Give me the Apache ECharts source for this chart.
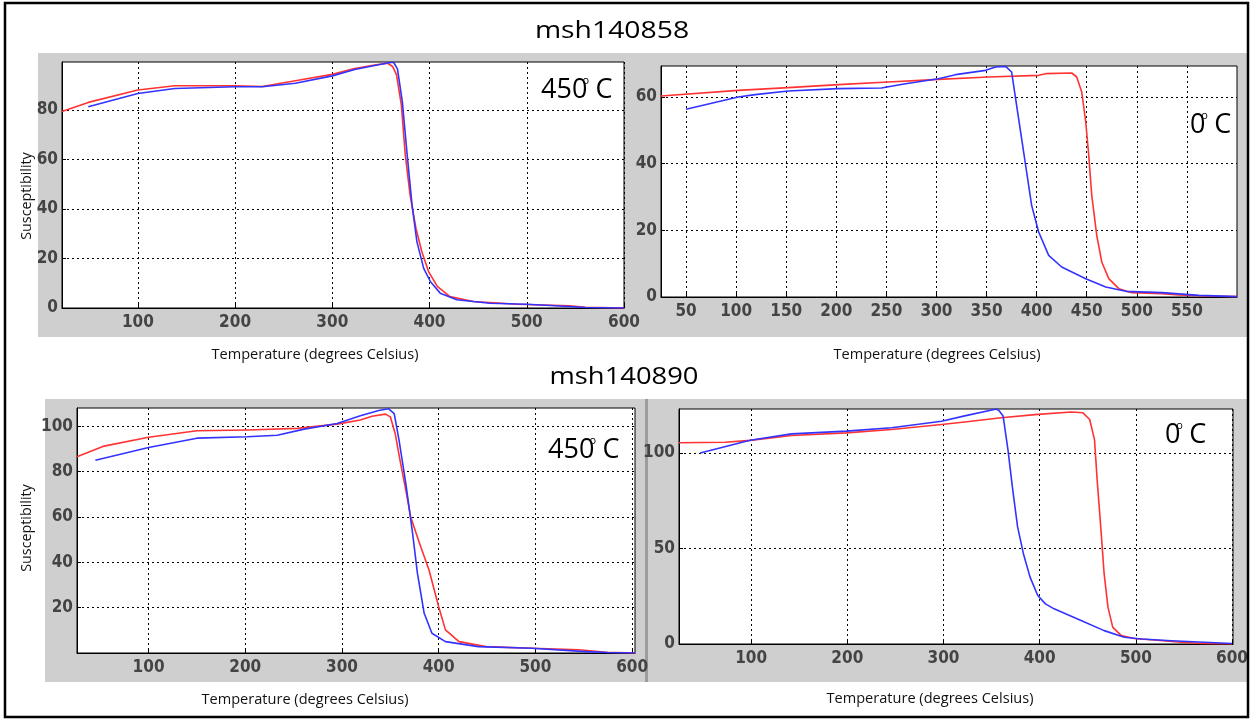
<!DOCTYPE html>
<html>
<head>
<meta charset="utf-8">
<script src="https://cdn.jsdelivr.net/npm/echarts@6/dist/echarts.min.js"></script>
<style>
html, body { margin: 0; padding: 0; background: #fff; }
#chart { width: 1251px; height: 719px; }
</style>
</head>
<body>
<div id="chart"></div>
<script>
// msh140858, heated to 450 C
var t1Red = [22, 49, 100, 138, 200, 228, 262, 300, 323, 345, 357, 362, 366, 371, 375, 380, 386, 392, 399, 408, 421, 445, 490, 544, 560, 600];
var s1Red = [79.3, 83, 88, 89.7, 89.7, 89.4, 91.7, 94.3, 96.7, 98.2, 98.8, 97.5, 94.2, 82, 62, 45.6, 32.2, 22.8, 14.7, 8.7, 4.6, 2.6, 1.5, 0.9, 0.3, 0];
var t1Blue = [49, 100, 138, 200, 228, 262, 300, 323, 345, 358, 363, 367, 372, 377, 382, 387, 394, 401, 411, 428, 462, 500, 548, 560, 600];
var s1Blue = [81.2, 86.6, 88.6, 89.3, 89.3, 90.7, 93.7, 96.3, 98, 99, 99.2, 96.5, 83.3, 61.8, 41.6, 26.8, 16, 10.6, 6, 3.3, 1.9, 1.5, 0.5, 0.2, 0];

// msh140858, 0 C
var t2Red = [25, 102, 152, 202, 252, 302, 352, 402, 409, 435, 440, 445, 449, 452, 455, 460, 465, 472, 482, 495, 525, 542, 569, 600];
var s2Red = [60.3, 62, 62.8, 63.7, 64.5, 65.3, 66, 66.5, 67, 67.2, 66, 61.5, 52.5, 42.5, 30.5, 18.5, 10.5, 5.5, 2.5, 1.3, 1, 0.6, 0.3, 0.1];
var t2Blue = [50, 102, 119, 152, 202, 245, 269, 302, 319, 349, 359, 369, 375, 380, 385, 390, 395, 402, 412, 425, 449, 469, 489, 525, 562, 600];
var s2Blue = [56.3, 60, 60.7, 61.8, 62.5, 62.7, 64, 65.5, 66.7, 68, 69, 69.2, 67.5, 57.5, 47.5, 37.5, 27.5, 19.5, 12.5, 9, 5.5, 3, 1.7, 1.3, 0.5, 0.1];

// msh140890, heated to 450 C
var t3Red = [26, 54, 100, 150, 202, 254, 295, 319, 331, 345, 350, 355, 360, 366, 371, 379, 390, 400, 407, 421, 449, 497, 545, 573, 603];
var s3Red = [86.5, 91.2, 95.1, 98, 98.3, 99, 100.9, 102.7, 104.4, 105.3, 104.1, 96.8, 85, 71.8, 60.1, 49.8, 36.6, 20.4, 10.2, 5, 2.8, 2.1, 1.4, 0.3, 0];
var t3Blue = [45, 100, 150, 202, 233, 261, 295, 319, 338, 348, 354, 359, 366, 373, 378, 385, 393, 407, 441, 496, 552, 575, 603];
var s3Blue = [85, 90.6, 94.7, 95.3, 96, 98.7, 101.2, 104.6, 106.9, 107.7, 105.5, 93.8, 74.8, 52.8, 35.2, 17.5, 8.7, 5, 2.8, 2.1, 0.6, 0.2, 0];

// msh140890, 0 C
var t4Red = [25, 73, 99, 142, 199, 246, 298, 322, 360, 398, 433, 445, 452, 457, 460, 464, 467, 471, 476, 485, 498, 519, 547, 568, 600];
var s4Red = [105.3, 105.6, 106.6, 109.1, 110.5, 112.3, 114.9, 116.2, 118.4, 120.2, 121.4, 121, 117.5, 107, 84.2, 57.9, 36.8, 19.3, 8.7, 4.4, 2.9, 2.1, 0.9, 0.3, 0];
var t4Blue = [47, 99, 142, 199, 246, 298, 322, 355, 358, 362, 367, 372, 377, 383, 390, 398, 406, 415, 443, 467, 488, 506, 537, 571, 600];
var s4Blue = [100, 106.6, 110, 111.4, 113.2, 116.6, 119.4, 123, 122, 119.3, 101.7, 80.7, 61.4, 47.4, 35, 25.4, 21, 18.4, 12.3, 7, 3.5, 2.6, 1.7, 0.9, 0.3];

// tick labels
var xTicks1 = [100, 200, 300, 400, 500, 600];
var yTicks1 = [0, 20, 40, 60, 80];
var xTicks2 = [50, 100, 150, 200, 250, 300, 350, 400, 450, 500, 550];
var yTicks2 = [0, 20, 40, 60];
var xTicks3 = [100, 200, 300, 400, 500, 600];
var yTicks3 = [20, 40, 60, 80, 100];
var xTicks4 = [100, 200, 300, 400, 500, 600];
var yTicks4 = [0, 50, 100];

var sampleNames = ['msh140858', 'msh140890'];
var xName = 'Temperature (degrees Celsius)';
var yName = 'Susceptibility';

function zip(t, s) {
    var out = [];
    for (var i = 0; i < t.length; i++) out.push([t[i], s[i]]);
    return out;
}

var tickFont = "'Liberation Sans Narrow', 'DejaVu Sans Condensed', sans-serif";
var textFont = "'Open Sans', 'Noto Sans', sans-serif";

var panels = [
    { box: [62, 62, 562, 246], x: [22, 600], y: [0, 99.3], xt: xTicks1, yt: yTicks1 },
    { box: [661, 66, 576, 231], x: [25, 600], y: [0, 69.3], xt: xTicks2, yt: yTicks2 },
    { box: [77, 408, 558, 245], x: [26, 603], y: [0, 108], xt: xTicks3, yt: yTicks3 },
    { box: [679, 409, 554, 235], x: [25, 601], y: [0, 123], xt: xTicks4, yt: yTicks4 }
];
var curves = [
    [zip(t1Red, s1Red), zip(t1Blue, s1Blue)],
    [zip(t2Red, s2Red), zip(t2Blue, s2Blue)],
    [zip(t3Red, s3Red), zip(t3Blue, s3Blue)],
    [zip(t4Red, s4Red), zip(t4Blue, s4Blue)]
];

function axisOf(i, range, ticks, isX) {
    return {
        type: 'value', gridIndex: i, min: range[0], max: range[1],
        axisLine: { show: true, onZero: false, lineStyle: { color: '#000', width: 1 } },
        axisTick: { show: true, inside: true, length: 4, customValues: ticks, lineStyle: { color: '#000' } },
        axisLabel: {
            customValues: ticks, margin: isX ? 6 : 4, color: '#444', fontWeight: 'bold',
            fontSize: 17, fontFamily: tickFont, showMinLabel: true, showMaxLabel: true, hideOverlap: false
        },
        splitLine: { show: true, lineStyle: { color: '#000', type: [2, 3], width: 1 } }
    };
}

var grids = [], xAxes = [], yAxes = [], series = [];
panels.forEach(function (p, i) {
    grids.push({
        left: p.box[0], top: p.box[1], width: p.box[2], height: p.box[3],
        show: true, backgroundColor: '#fff', borderColor: '#000', borderWidth: 1,
        containLabel: false, outerBoundsMode: 'none'
    });
    xAxes.push(axisOf(i, p.x, p.xt, true));
    yAxes.push(axisOf(i, p.y, p.yt, false));
    [['#ff3333', 3], ['#3333ff', 4]].forEach(function (c, k) {
        series.push({
            type: 'line', xAxisIndex: i, yAxisIndex: i, data: curves[i][k],
            showSymbol: false, silent: true,
            lineStyle: { color: c[0], width: 1.6, join: 'round' }, z: c[1]
        });
    });
});

function label(text, x, y, size, opts) {
    opts = opts || {};
    return {
        type: 'text', x: x, y: y, z: 50,
        rotation: opts.rotation || 0, scaleX: opts.scaleX || 1,
        style: {
            text: text, x: 0, y: 0, fill: opts.color || '#000',
            font: size + 'px ' + textFont,
            align: opts.align || 'center', textAlign: opts.align || 'center',
            verticalAlign: 'middle', textVerticalAlign: 'middle'
        }
    };
}

// degree annotation: number, small raised "o" over its last digit, then "C"
function degree(num, x, y) {
    var w = num.length * 15.2;
    return [
        label(num, x, y, 27, { align: 'left' }),
        label('o', x + w - 4, y - 9, 11, { align: 'left' }),
        label('C', x + w + 9, y, 27, { align: 'left' })
    ];
}

var grays = [
    [38, 53, 594, 284], [632, 53, 615, 284],
    [45, 399, 601, 283], [648, 399, 600, 283]
];
var graphics = grays.map(function (g) {
    return { type: 'rect', z: -10, shape: { x: g[0], y: g[1], width: g[2], height: g[3] }, style: { fill: '#cfcfcf' } };
});
graphics.push({ type: 'rect', z: -9, shape: { x: 645, y: 399, width: 3, height: 283 }, style: { fill: '#9c9c9c' } });
graphics.push({ type: 'rect', z: 60, shape: { x: 5, y: 3, width: 1243, height: 714 }, style: { fill: null, stroke: '#000', lineWidth: 2.5 } });

graphics.push(label(sampleNames[0], 612, 31, 24, { scaleX: 1.18 }));
graphics.push(label(sampleNames[1], 624, 377, 24, { scaleX: 1.14 }));
graphics.push(label(xName, 315, 355, 14, { scaleX: 1.04, color: '#111' }));
graphics.push(label(xName, 937, 355, 14, { scaleX: 1.04, color: '#111' }));
graphics.push(label(xName, 305, 700, 14, { scaleX: 1.04, color: '#111' }));
graphics.push(label(xName, 930, 699, 14, { scaleX: 1.04, color: '#111' }));
graphics.push(label(yName, 27, 196, 14, { rotation: Math.PI / 2, scaleX: 1.02, color: '#111' }));
graphics.push(label(yName, 27, 528, 14, { rotation: Math.PI / 2, scaleX: 1.02, color: '#111' }));
graphics = graphics.concat(degree('450', 541, 90));
graphics = graphics.concat(degree('0', 1190, 125));
graphics = graphics.concat(degree('450', 548, 450));
graphics = graphics.concat(degree('0', 1165, 435));

var chart = echarts.init(document.getElementById('chart'));
chart.setOption({
    animation: false,
    backgroundColor: '#fff',
    grid: grids,
    xAxis: xAxes,
    yAxis: yAxes,
    series: series,
    graphic: { elements: graphics }
});
</script>
</body>
</html>
